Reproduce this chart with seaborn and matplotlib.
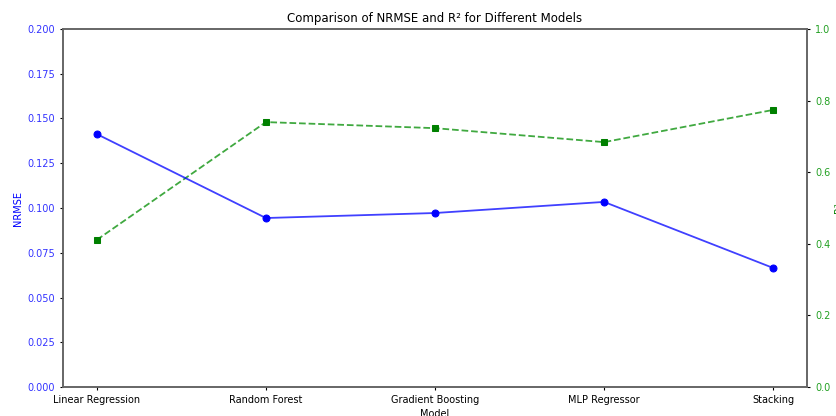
import matplotlib
matplotlib.use("Agg")
import matplotlib.pyplot as plt
import seaborn as sns
import pandas as pd

models = ["Linear Regression", "Random Forest", "Gradient Boosting", "MLP Regressor", "Stacking"]
nrmse = [0.1413, 0.0944, 0.0972, 0.1034, 0.0665]
r2 = [0.411, 0.740, 0.723, 0.684, 0.774]

df = pd.DataFrame({"Model": models, "NRMSE": nrmse, "R2": r2})

plt.rcParams.update({
    "font.size": 7,
    "axes.titlesize": 8.5,
    "axes.labelsize": 7,
    "xtick.labelsize": 7,
    "ytick.labelsize": 7,
    "xtick.major.size": 2.5,
    "ytick.major.size": 2.5,
    "axes.labelpad": 2.5,
})

fig = plt.figure(figsize=(8.36, 4.16), dpi=100)
ax1 = fig.add_axes([63 / 836, 1 - 387 / 416, (807 - 63) / 836, (387 - 29) / 416])

sns.lineplot(data=df, x="Model", y="NRMSE", ax=ax1, color="blue", marker="o",
             markersize=5, markeredgecolor="blue", sort=False, linewidth=1.3)
ax1.set_ylim(0, 0.2)
ax1.set_ylabel("NRMSE", color="blue")
ax1.set_xlabel("Model")
ax1.tick_params(axis="y", labelcolor="#3333ff")

ax2 = ax1.twinx()
sns.lineplot(data=df, x="Model", y="R2", ax=ax2, color="green", marker="s",
             markersize=5, markeredgecolor="green", linestyle="--", sort=False, linewidth=1.3)
ax2.set_ylim(0, 1.0)
ax2.set_ylabel("R²", color="green")
ax2.tick_params(axis="y", labelcolor="#22a022")

# softer line strokes, solid markers
ax1.lines[0].set_color((0.0, 0.0, 1.0, 0.75))
ax1.lines[0].set_markerfacecolor("blue")
ax1.lines[0].set_markeredgecolor("blue")
ax2.lines[0].set_color((0.0, 0.55, 0.0, 0.75))
ax2.lines[0].set_markerfacecolor("green")
ax2.lines[0].set_markeredgecolor("green")

# NRMSE line drawn above the R² line
ax1.set_zorder(ax2.get_zorder() + 1)
ax1.patch.set_visible(False)

for ax in (ax1, ax2):
    for s in ax.spines.values():
        s.set_color("#666666")
        s.set_linewidth(1.2)

ax1.set_title("Comparison of NRMSE and R² for Different Models", pad=5)

fig.savefig("out.png", dpi=100)
